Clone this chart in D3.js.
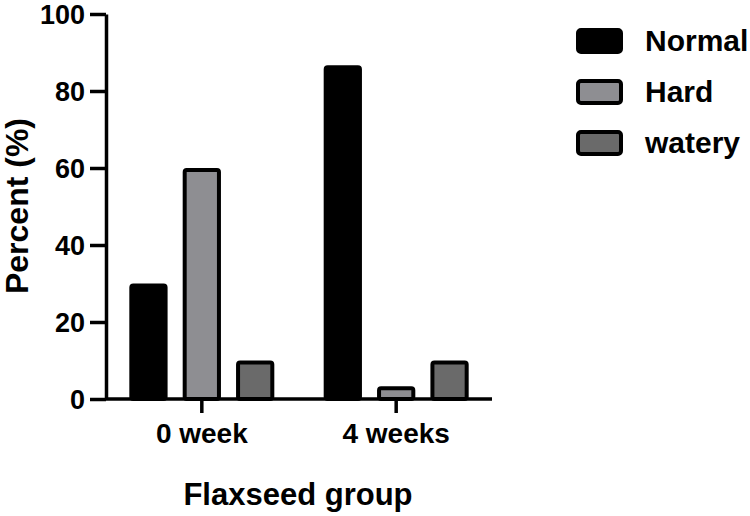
<!DOCTYPE html>
<html>
<head>
<meta charset="utf-8">
<script src="https://cdn.jsdelivr.net/npm/d3@7"></script>
<style>
  body { margin: 0; background: #fff; }
  svg { display: block; font-family: Arial, "Liberation Sans", sans-serif; font-weight: bold; }
</style>
</head>
<body>
<svg id="chart" width="750" height="516"></svg>
<script>
const groups = ["0 week", "4 weeks"];
const series = ["Normal", "Hard", "watery"];
const normalValues = [30, 86.7];
const hardValues = [60, 3.3];
const wateryValues = [10, 10];
const yTicks = [0, 20, 40, 60, 80, 100];
const seriesColors = ["#000000", "#8e8e92", "#6a6a6a"];

const valuesBySeries = [normalValues, hardValues, wateryValues];
const rows = [];
groups.forEach((g, gi) => {
  series.forEach((s, si) => rows.push({ group: g, key: s, value: valuesBySeries[si][gi], color: seriesColors[si] }));
});

const svg = d3.select("#chart");
const plotLeft = 106, plotRight = 492, plotTop = 14, plotBottom = 399;

const x0 = d3.scaleBand().domain(groups).range([plotLeft, plotRight])
  .paddingInner(0.254).paddingOuter(0.12);
const x1 = d3.scaleBand().domain(series).range([0, x0.bandwidth()]).paddingInner(0.283);
const y = d3.scaleLinear().domain([0, 100]).range([plotBottom, plotTop]);

// bars
const sw = 4;
svg.append("g").selectAll("rect")
  .data(rows).enter().append("rect")
  .attr("x", d => x0(d.group) + x1(d.key) + sw / 2)
  .attr("y", d => y(d.value) + sw / 2)
  .attr("width", x1.bandwidth() - sw)
  .attr("height", d => Math.max(0, y(0) - y(d.value) - sw / 2))
  .attr("rx", 2)
  .attr("fill", d => d.color)
  .attr("stroke", "#000")
  .attr("stroke-width", sw);

// y axis
const yAxis = svg.append("g")
  .attr("transform", `translate(${plotLeft},0)`)
  .call(d3.axisLeft(y).tickValues(yTicks).tickSize(16).tickPadding(5).tickSizeOuter(0));
yAxis.select(".domain").attr("stroke-width", 3.5);
yAxis.selectAll(".tick line").attr("stroke-width", 3.5);
yAxis.selectAll("text").attr("font-size", 27).attr("fill", "#000").attr("dy", "0.36em");

// x axis
const xAxis = svg.append("g")
  .attr("transform", `translate(0,${plotBottom})`)
  .call(d3.axisBottom(x0).tickSize(14).tickPadding(10).tickSizeOuter(0));
xAxis.select(".domain").attr("d", `M${plotLeft},0H${plotRight}`).attr("stroke-width", 3.5);
xAxis.selectAll(".tick line").attr("stroke-width", 3.5);
xAxis.selectAll("text").attr("font-size", 28).attr("fill", "#000");

// axis titles
svg.append("text")
  .attr("transform", "translate(28,206) rotate(-90)")
  .attr("text-anchor", "middle")
  .attr("font-size", 32)
  .text("Percent (%)");

svg.append("text")
  .attr("x", 298).attr("y", 505)
  .attr("text-anchor", "middle")
  .attr("font-size", 31)
  .text("Flaxseed group");

// legend
const legend = svg.append("g").selectAll("g")
  .data(series).enter().append("g")
  .attr("transform", (d, i) => `translate(578,${30 + i * 51})`);
legend.append("rect")
  .attr("width", 43).attr("height", 22).attr("rx", 3)
  .attr("fill", (d, i) => seriesColors[i])
  .attr("stroke", "#000").attr("stroke-width", 4);
legend.append("text")
  .attr("x", 67).attr("y", 21)
  .attr("font-size", 30)
  .text(d => d);
</script>
</body>
</html>
